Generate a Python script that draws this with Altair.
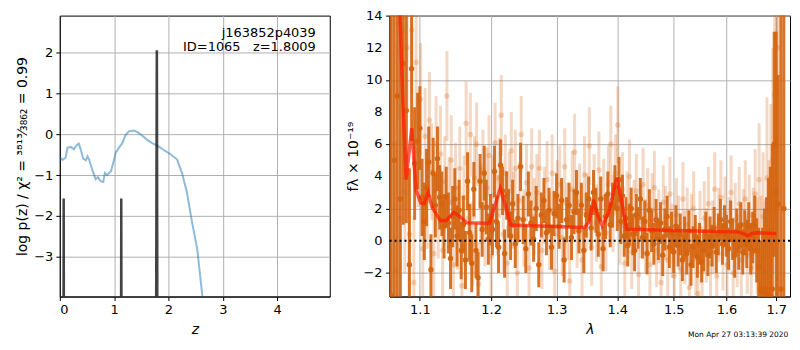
import altair as alt
import pandas as pd

# ---------------- left panel: log p(z) ----------------
pz_z = [0.006, 0.05, 0.11, 0.14, 0.20, 0.26, 0.31, 0.35, 0.385, 0.43, 0.48, 0.51, 0.54,
        0.60, 0.66, 0.70, 0.75, 0.80, 0.83, 0.87, 0.94, 0.98, 1.03, 1.09, 1.15, 1.21,
        1.27, 1.36, 1.43, 1.52, 1.61, 1.70, 1.78, 1.85, 1.94, 2.04, 2.16, 2.25, 2.34,
        2.43, 2.53, 2.62, 2.70]
pz_logp = [-0.57, -0.63, -0.57, -0.33, -0.31, -0.37, -0.27, -0.23, -0.37, -0.60, -0.64,
           -0.54, -0.62, -0.88, -1.10, -1.05, -1.15, -1.17, -0.95, -1.00, -0.91, -0.72,
           -0.45, -0.33, -0.22, -0.02, 0.07, 0.09, 0.05, -0.04, -0.14, -0.22, -0.27,
           -0.33, -0.41, -0.49, -0.62, -0.95, -1.42, -2.12, -2.81, -3.90, -5.0]

chi_z = [0.0, 0.058, 0.067, 0.076, 0.085, 1.10, 1.118, 1.127, 1.136, 1.145,
         1.76, 1.781, 1.792, 1.806, 1.825, 4.97]
chi_y = [-9, -9, -1.6, -1.6, -9, -9, -9, -1.6, -1.6, -9,
         -9, 2.03, 2.03, -9, -9, -9]

label_lines = ["j163852p4039", "ID=1065\u00a0\u00a0\u00a0z=1.8009"]

# ---------------- right panel: spectrum ----------------
lam_dark = [1.062, 1.066, 1.070, 1.074, 1.078, 1.082, 1.086, 1.089, 1.093, 1.097, 1.100, 1.103,
            1.106, 1.109, 1.112, 1.115, 1.118, 1.121, 1.124, 1.127, 1.130, 1.133, 1.136, 1.139,
            1.142, 1.145, 1.148, 1.151, 1.154, 1.157, 1.160, 1.163, 1.166, 1.169, 1.172, 1.175,
            1.178, 1.181, 1.184, 1.187, 1.190, 1.193, 1.196, 1.199, 1.202, 1.205, 1.208, 1.211,
            1.214, 1.217, 1.220, 1.223, 1.226, 1.229, 1.232, 1.236, 1.240, 1.244, 1.248, 1.252,
            1.256, 1.260, 1.264, 1.268, 1.272, 1.276, 1.280, 1.284, 1.288, 1.292, 1.296, 1.300,
            1.304, 1.308, 1.312, 1.316, 1.320, 1.324, 1.328, 1.332, 1.336, 1.340, 1.344, 1.348,
            1.352, 1.356, 1.360, 1.364, 1.368, 1.372, 1.376, 1.380, 1.384, 1.388, 1.392, 1.396,
            1.400, 1.403, 1.406, 1.409, 1.412, 1.415, 1.418, 1.421, 1.424, 1.427, 1.430, 1.433,
            1.436, 1.440, 1.444, 1.448, 1.452, 1.456, 1.460, 1.464, 1.468, 1.472, 1.476, 1.480,
            1.484, 1.488, 1.492, 1.496, 1.500, 1.504, 1.508, 1.512, 1.516, 1.520, 1.524, 1.528,
            1.532, 1.536, 1.540, 1.544, 1.548, 1.552, 1.556, 1.560, 1.564, 1.568, 1.572, 1.576,
            1.580, 1.584, 1.588, 1.592, 1.596, 1.600, 1.604, 1.608, 1.612, 1.616, 1.620, 1.624,
            1.628, 1.632, 1.636, 1.640, 1.644, 1.648, 1.652, 1.656, 1.660, 1.664, 1.668, 1.672,
            1.676, 1.680, 1.684, 1.688, 1.692, 1.696, 1.700, 1.704, 1.710, 1.716]
flux_dark = [-3.4, 5.0, 9.0, 2.6, 11.0, 8.1, -1.5, 10.7, 4.8, 6.2, 7.0, 2.7,
             1.2, 3.3, 4.9, -1.8, 4.2, 2.2, 5.1, 2.7, 2.3, 0.9, 2.7, 1.1,
             -1.1, 1.5, 2.6, 0.3, 1.9, -0.6, 1.0, -1.2, 3.7, 0.5, -1.4, 3.2,
             -0.6, -2.3, 3.7, 0.7, 4.2, 2.1, 0.1, 1.3, 0.7, 4.3, 1.2, -0.4,
             4.7, 3.1, -0.8, 2.8, 1.7, 0.3, 2.3, -0.2, 1.4, 4.6, 1.3, -0.5,
             2.9, 1.1, 0.1, 2.0, -1.5, 1.6, 2.5, 0.5, 1.9, -0.4, 1.7, 2.8,
             0.9, 2.5, -1.2, 1.3, 2.2, 0.2, 1.8, 3.0, 0.6, 2.2, -0.6, 1.6,
             2.6, 0.8, 3.0, 1.9, 0.4, 2.6, -0.5, 1.5, 2.9, 1.0, 2.2, 3.3,
             2.0, 3.8, 1.2, 2.8, 0.3, 1.4, -0.3, 1.0, 2.0, 0.4, -0.6, 1.6,
             0.8, 2.6, 0.2, 1.2, -0.8, 1.9, 0.6, -0.2, 1.3, 0.1, 1.1, -0.9,
             0.7, 1.5, -0.4, 0.5, -0.7, 0.9, -0.3, 0.4, -1.2, 0.2, -0.8, 0.6,
             -1.5, -0.4, 0.3, -1.0, -0.2, -1.3, -0.6, 0.5, -0.9, 0.2, -0.3, 0.8,
             -0.7, 0.4, 1.3, -0.2, 0.9, 0.3, -0.5, 1.2, 0.1, -0.9, 0.6, -0.4,
             1.0, -0.7, 0.5, -0.2, 0.9, -0.5, 0.2, 1.0, -0.6, -1.6, -3.0, -3.2,
             -3.0, -3.3, -3.1, -3.4, -3.0, 6.0, 3.0, 2.3, -3.0, 2.0]
err_dark = [22, 18, 16, 14, 10, 7, 6, 4.5, 3.5, 3, 2.6, 2.4,
            2.4, 2.4, 2.2, 2.2, 2.2, 2.0, 2.0, 2.0, 2.0, 2.0, 1.9, 1.9,
            1.9, 1.9, 1.9, 1.9, 1.9, 1.8, 1.8, 1.8, 1.8, 1.8, 1.8, 1.7,
            1.7, 1.6, 1.7, 1.7, 1.7, 1.7, 1.6, 1.6, 1.6, 1.6, 1.6, 1.6,
            1.6, 1.5, 1.5, 1.5, 1.5, 1.5, 1.5, 1.5, 1.5, 1.5, 1.5, 1.5,
            1.4, 1.4, 1.4, 1.4, 1.4, 1.4, 1.4, 1.4, 1.4, 1.4, 1.4, 1.4,
            1.4, 1.4, 1.4, 1.4, 1.4, 1.4, 1.4, 1.4, 1.4, 1.4, 1.4, 1.4,
            1.4, 1.4, 1.4, 1.4, 1.4, 1.4, 1.4, 1.4, 1.4, 1.4, 1.4, 1.4,
            1.4, 1.4, 1.4, 1.3, 1.3, 1.3, 1.3, 1.3, 1.3, 1.3, 1.3, 1.3,
            1.3, 1.3, 1.3, 1.3, 1.3, 1.3, 1.3, 1.3, 1.3, 1.3, 1.3, 1.3,
            1.3, 1.3, 1.3, 1.3, 1.3, 1.3, 1.3, 1.3, 1.3, 1.3, 1.3, 1.3,
            1.3, 1.3, 1.3, 1.3, 1.3, 1.3, 1.3, 1.3, 1.3, 1.3, 1.3, 1.3,
            1.3, 1.3, 1.3, 1.3, 1.3, 1.3, 1.3, 1.3, 1.3, 1.4, 1.4, 1.4,
            1.4, 1.4, 1.4, 1.5, 1.5, 1.6, 1.6, 1.8, 2.0, 2.4, 3.0, 4.0,
            5.0, 6.0, 7.0, 8.0, 9.0, 7.0, 10, 8, 20, 30]

lam_light = [1.064, 1.068, 1.071, 1.074, 1.077, 1.080, 1.083, 1.086, 1.089, 1.092, 1.095, 1.098,
             1.101, 1.104, 1.107, 1.110, 1.113, 1.116, 1.119, 1.122, 1.125, 1.128, 1.131, 1.134,
             1.137, 1.140, 1.143, 1.146, 1.149, 1.152, 1.155, 1.158, 1.161, 1.164, 1.167, 1.170,
             1.173, 1.176, 1.179, 1.182, 1.185, 1.188, 1.191, 1.194, 1.197, 1.200, 1.203, 1.206,
             1.209, 1.212, 1.215, 1.218, 1.221, 1.224, 1.227, 1.230, 1.233, 1.236, 1.239, 1.242,
             1.245, 1.249, 1.253, 1.257, 1.261, 1.265, 1.269, 1.273, 1.277, 1.281, 1.285, 1.289,
             1.293, 1.297, 1.301, 1.305, 1.309, 1.313, 1.317, 1.321, 1.325, 1.329, 1.333, 1.337,
             1.341, 1.345, 1.349, 1.353, 1.357, 1.361, 1.365, 1.369, 1.373, 1.377, 1.381, 1.385,
             1.389, 1.393, 1.397, 1.401, 1.405, 1.409, 1.413, 1.417, 1.421, 1.425, 1.429, 1.433,
             1.437, 1.441, 1.445, 1.449, 1.453, 1.457, 1.461, 1.465, 1.469, 1.473, 1.477, 1.481,
             1.485, 1.489, 1.493, 1.497, 1.501, 1.505, 1.509, 1.513, 1.517, 1.521, 1.525, 1.529,
             1.533, 1.537, 1.541, 1.545, 1.549, 1.553, 1.557, 1.561, 1.565, 1.569, 1.573, 1.577,
             1.581, 1.585, 1.589, 1.593, 1.597, 1.601, 1.605, 1.609, 1.613, 1.617, 1.621, 1.625,
             1.629, 1.633, 1.637, 1.641, 1.645, 1.649, 1.653, 1.657, 1.661, 1.665, 1.669, 1.673,
             1.677, 1.681, 1.685, 1.689, 1.693, 1.697, 1.701, 1.705]
flux_light = [6.0, -1.8, 13.5, 1.4, 13.0, 3.0, 12.0, 0.4, 13.1, -2.6, 11.1, 5.6,
              8.8, -0.5, 6.5, 2.5, 7.5, 4.3, -0.8, 6.0, 1.9, 5.4, -0.6, 3.7,
              9.0, 2.4, 5.0, -1.5, 3.3, 0.8, 4.5, -2.8, 2.7, 7.3, 1.4, 6.6,
              -0.2, 3.9, 6.0, -2.7, 2.3, 4.4, 0.9, 3.3, 5.3, -1.0, 2.8, 6.1,
              1.6, 3.9, 7.8, 0.4, 4.2, -1.4, 3.1, 5.6, 1.9, 4.5, -2.0, 2.5,
              6.6, 0.8, 3.6, -1.7, 4.6, 1.5, 3.0, 4.5, -0.6, 2.2, 3.8, 0.6,
              4.2, -1.9, 2.6, 3.5, 0.2, 4.6, 1.2, -2.5, 3.2, 5.5, 0.7, 2.4,
              -1.2, 4.1, 1.8, 5.9, -0.4, 3.0, 1.1, 4.4, -1.6, 2.7, 0.5, 3.5,
              6.0, 1.7, 4.2, 7.2, 0.9, 3.2, -1.4, 2.0, 4.0, -0.7, 1.5, 3.1,
              -2.1, 1.2, 3.5, 0.3, 2.2, -1.5, 1.9, 3.3, -0.6, 0.9, -2.6, 2.4,
              1.1, -1.2, 2.9, 0.0, -2.2, 1.6, 0.5, -1.8, 2.6, -0.4, 1.0, -2.9,
              0.6, 2.0, -1.1, -3.3, 0.8, -1.9, 1.4, -0.3, 2.3, -1.4, 0.2, 3.2,
              -2.2, 1.0, 2.7, -0.8, 1.7, -1.5, 0.4, 3.0, -2.0, 1.3, -0.6, 2.3,
              -1.2, 0.9, 2.6, -0.9, 1.6, -1.7, 0.6, 2.9, -0.3, 3.8, -1.0, 1.5,
              -2.0, 3.9, -0.5, 2.5, 5.0, 9.1, 6.0, 12.0]
err_light = [10, 8, 6, 6, 5, 5, 4, 4, 4, 4, 4, 3.5,
             3.5, 3, 3, 3, 3, 3, 3, 3, 3, 3, 3, 2.8,
             2.8, 2.8, 2.8, 2.8, 2.8, 2.6, 2.6, 2.6, 2.6, 2.6, 2.6, 2.6,
             2.6, 2.6, 2.6, 2.6, 2.5, 2.5, 2.5, 2.5, 2.5, 2.5, 2.5, 2.5,
             2.5, 2.5, 2.5, 2.4, 2.4, 2.4, 2.4, 2.4, 2.4, 2.4, 2.4, 2.4,
             2.4, 2.4, 2.4, 2.4, 2.4, 2.4, 2.4, 2.4, 2.4, 2.4, 2.4, 2.4,
             2.4, 2.4, 2.4, 2.4, 2.4, 2.4, 2.4, 2.4, 2.4, 2.4, 2.4, 2.4,
             2.4, 2.4, 2.4, 2.4, 2.4, 2.4, 2.4, 2.4, 2.4, 2.4, 2.4, 2.4,
             2.4, 2.4, 2.4, 2.4, 2.4, 2.3, 2.3, 2.3, 2.3, 2.3, 2.3, 2.3,
             2.3, 2.3, 2.3, 2.3, 2.3, 2.3, 2.3, 2.3, 2.3, 2.3, 2.3, 2.3,
             2.3, 2.3, 2.3, 2.3, 2.3, 2.3, 2.3, 2.3, 2.3, 2.3, 2.3, 2.3,
             2.3, 2.3, 2.3, 2.3, 2.3, 2.3, 2.3, 2.3, 2.3, 2.3, 2.3, 2.3,
             2.3, 2.3, 2.3, 2.3, 2.3, 2.3, 2.3, 2.3, 2.3, 2.3, 2.3, 2.3,
             2.3, 2.3, 2.4, 2.4, 2.5, 2.6, 2.7, 2.8, 3.0, 3.5, 3.8, 4.0,
             4.5, 5.0, 5.5, 6.0, 7.0, 8, 9, 10]

lam_model = [1.068, 1.0775, 1.0817, 1.0891, 1.0947, 1.1013, 1.1058, 1.1111, 1.1168, 1.128,
             1.1362, 1.1463, 1.1532, 1.1647, 1.1929, 1.1976, 1.2048, 1.2135, 1.2208, 1.2292,
             1.3446, 1.3527, 1.3597, 1.3663, 1.3745, 1.3856, 1.3993, 1.4077, 1.4161, 1.4977,
             1.6222, 1.6320, 1.6418, 1.6517, 1.6616, 1.7004]
flux_model = [22.0, 8.5, 3.8, 7.0, 3.2, 2.35, 2.3, 3.0, 2.06, 1.24,
              1.27, 1.76, 1.57, 1.12, 1.08, 1.1, 2.06, 3.24, 2.25, 0.98,
              0.82, 1.18, 2.55, 1.67, 0.92, 1.76, 3.92, 2.45, 0.72, 0.63,
              0.55, 0.45, 0.30, 0.45, 0.50, 0.45]

yticks_right = [-2, 0, 2, 4, 6, 8, 10, 12, 14]
xticks_right = [1.1, 1.2, 1.3, 1.4, 1.5, 1.6, 1.7]
timestamp = "Mon Apr 27 03:13:39 2020"

# ---------------- frames ----------------
df_pz = pd.DataFrame({"z": pz_z, "y": pz_logp})
df_chi = pd.DataFrame({"z": chi_z, "y": chi_y})
df_dark = pd.DataFrame({"lam": lam_dark, "f": flux_dark, "err": err_dark})
df_dark["lo"] = df_dark["f"] - df_dark["err"]
df_dark["hi"] = df_dark["f"] + df_dark["err"]
df_light = pd.DataFrame({"lam": lam_light, "f": flux_light, "err": err_light})
df_light["lo"] = df_light["f"] - df_light["err"]
df_light["hi"] = df_light["f"] + df_light["err"]
df_model = pd.DataFrame({"lam": lam_model, "f": flux_model})
df_ylab = pd.DataFrame({"f": yticks_right,
                        "txt": [str(v).replace("-", "\u2212") for v in yticks_right]})

FONT = "DejaVu Sans"
ORANGE = "#d4640f"

# ---------------- left chart ----------------
LW, LH = 271, 282
xl = alt.X("z:Q", scale=alt.Scale(domain=[0, 4.97], nice=False, zero=False),
           axis=alt.Axis(values=[0, 1, 2, 3, 4], format="d", title="z",
                         titleFontStyle="italic", titlePadding=6))
yl = alt.Y("y:Q", scale=alt.Scale(domain=[-3.97, 2.9], nice=False, zero=False),
           axis=alt.Axis(values=[-3, -2, -1, 0, 1, 2], format="d", labelOverlap=False,
                         title="log p(z) / χ² = ³⁸¹³⁄₃₈₆₂ = 0.99"))

curve = alt.Chart(df_pz).mark_line(color="#1f77b4", opacity=0.5, strokeWidth=2,
                                   clip=True).encode(x=xl, y=yl)
chi = alt.Chart(df_chi).mark_line(color="#222222", opacity=0.85, strokeWidth=2,
                                  clip=True).encode(x="z:Q", y="y:Q")
txt1 = alt.Chart(df_pz.head(1)).mark_text(align="right", baseline="middle", fontSize=13,
                                          font=FONT, color="black").encode(
    x=alt.value(LW - 14), y=alt.value(17), text=alt.value(label_lines[0]))
txt2 = alt.Chart(df_pz.head(1)).mark_text(align="right", baseline="middle", fontSize=13,
                                          font=FONT, color="black").encode(
    x=alt.value(LW - 14), y=alt.value(32), text=alt.value(label_lines[1]))

left = alt.layer(curve, chi, txt1, txt2).properties(width=LW, height=LH)

# ---------------- right chart ----------------
RW, RH = 402, 282
yscale = alt.Scale(domain=[-3.47, 14], nice=False, zero=False)
yaxis_r = alt.Axis(values=yticks_right, labels=False, title="fλ × 10⁻¹⁹",
                   titlePadding=25)
xscale = alt.Scale(type="log", domain=[1.06, 1.729], nice=False)
xaxis_r = alt.Axis(values=xticks_right, format=".1f", title="λ",
                   titleFontStyle="italic", titlePadding=6)

light_bars = alt.Chart(df_light).mark_rule(color=ORANGE, opacity=0.25, strokeWidth=3,
                                           clip=True).encode(
    x=alt.X("lam:Q", scale=xscale, axis=xaxis_r),
    y=alt.Y("lo:Q", scale=yscale, axis=yaxis_r), y2="hi:Q")
light_pts = alt.Chart(df_light).mark_circle(color=ORANGE, opacity=0.25, size=30,
                                            clip=True).encode(
    x=alt.X("lam:Q", axis=xaxis_r), y=alt.Y("f:Q", axis=yaxis_r))
dark_bars = alt.Chart(df_dark).mark_rule(color=ORANGE, opacity=0.9, strokeWidth=3,
                                         clip=True).encode(
    x=alt.X("lam:Q", axis=xaxis_r), y=alt.Y("lo:Q", axis=yaxis_r), y2="hi:Q")
dark_pts = alt.Chart(df_dark).mark_circle(color=ORANGE, opacity=0.95, size=30,
                                          clip=True).encode(
    x=alt.X("lam:Q", axis=xaxis_r), y=alt.Y("f:Q", axis=yaxis_r))
zero = alt.Chart(df_model.head(1)).mark_rule(color="black", strokeWidth=2,
                                             strokeDash=[2, 3]).encode(y=alt.datum(0))
model = alt.Chart(df_model).mark_line(color="#ff1a00", opacity=0.7, strokeWidth=3.5,
                                      clip=True).encode(
    x=alt.X("lam:Q", axis=xaxis_r), y=alt.Y("f:Q", axis=yaxis_r))
ylabels = alt.Chart(df_ylab).mark_text(align="right", baseline="middle", fontSize=13,
                                       font=FONT, color="black").encode(
    x=alt.value(-7), y=alt.Y("f:Q", axis=yaxis_r), text="txt:N")
stamp = alt.Chart(df_model.head(1)).mark_text(align="center", baseline="middle",
                                              fontSize=7.5, font=FONT, color="black").encode(
    x=alt.value(RW - 52), y=alt.value(RH + 39), text=alt.value(timestamp))

right = alt.layer(light_bars, light_pts, dark_bars, dark_pts, zero, model, ylabels,
                  stamp).properties(width=RW, height=RH)

chart = alt.hconcat(left, right, spacing=15).properties(
    padding={"left": 7, "top": 0, "right": 0, "bottom": 0}
).configure_view(stroke="black", strokeWidth=1).configure_axis(
    grid=True, gridColor="#b0b0b0", gridWidth=1, domainColor="black", domainWidth=1,
    tickColor="black", tickSize=4, labelFont=FONT, labelFontSize=13, labelColor="black",
    titleFont=FONT, titleFontSize=14, titleColor="black", titleFontWeight="normal",
    labelPadding=3, titlePadding=4
)

chart.save("out.html", embed_options={"renderer": "svg", "actions": False})
